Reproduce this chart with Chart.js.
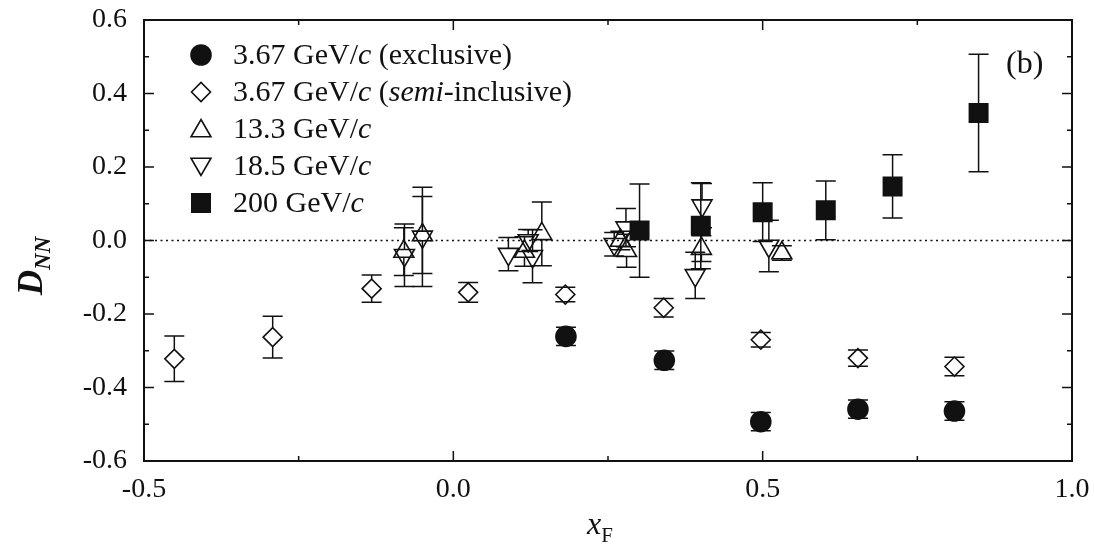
<!DOCTYPE html>
<html>
<head>
<meta charset="utf-8">
<script src="https://cdn.jsdelivr.net/npm/chart.js@4.4.1/dist/chart.umd.min.js"></script>
<style>
  html, body { margin: 0; padding: 0; background: #fff; }
  canvas { display: block; }
</style>
</head>
<body>
<canvas id="chart" width="1094" height="550"></canvas>
<script>
// Spin-transfer D_NN versus Feynman x_F, one set per beam momentum.

// 3.67 GeV/c, exclusive
const excX   = [0.182, 0.341, 0.497, 0.654, 0.810];
const excY   = [-0.261, -0.326, -0.493, -0.459, -0.464];
const excErr = [0.025, 0.025, 0.025, 0.025, 0.025];

// 3.67 GeV/c, semi-inclusive
const semiX   = [-0.451, -0.292, -0.132, 0.024, 0.181, 0.340, 0.497, 0.654, 0.810];
const semiY   = [-0.322, -0.263, -0.131, -0.141, -0.147, -0.183, -0.270, -0.320, -0.343];
const semiErr = [0.062, 0.057, 0.037, 0.027, 0.020, 0.025, 0.020, 0.022, 0.025];

// 13.3 GeV/c
const p133X   = [-0.080, -0.050, 0.115, 0.143, 0.270, 0.280, 0.401, 0.531];
const p133Y   = [-0.030, 0.015, -0.030, 0.018, 0.000, -0.028, -0.022, -0.034];
const p133Err = [0.065, 0.105, 0.040, 0.087, 0.025, 0.045, 0.035, 0.020];

// 18.5 GeV/c
const p185X   = [-0.079, -0.050, 0.089, 0.121, 0.128, 0.260, 0.279, 0.391, 0.402, 0.510];
const p185Y   = [-0.040, 0.010, -0.037, 0.000, -0.043, -0.010, 0.035, -0.095, 0.095, -0.015];
const p185Err = [0.085, 0.135, 0.045, 0.030, 0.072, 0.032, 0.052, 0.063, 0.060, 0.070];

// 200 GeV/c
const p200X   = [0.301, 0.400, 0.500, 0.602, 0.710, 0.849];
const p200Y   = [0.027, 0.040, 0.077, 0.082, 0.147, 0.347];
const p200Err = [0.127, 0.117, 0.080, 0.080, 0.086, 0.160];

// Axis ticks
const xMajorTicks = [-0.5, 0.0, 0.5, 1.0];
const xTickLabels = ['-0.5', '0.0', '0.5', '1.0'];
const xMinorTicks = [-0.25, 0.25, 0.75];
const yMajorTicks = [-0.6, -0.4, -0.2, 0.0, 0.2, 0.4, 0.6];
const yTickLabels = ['-0.6', '-0.4', '-0.2', '0.0', '0.2', '0.4', '0.6'];
const yMinorTicks = [-0.5, -0.3, -0.1, 0.1, 0.3, 0.5];

// Zero reference line end points
const zeroLineX = [-0.5, 1.0];

// Legend labels; second element marks italic pieces
const legendLabels = [
  [['3.67 GeV/', 0], ['c', 1], [' (exclusive)', 0]],
  [['3.67 GeV/', 0], ['c', 1], [' (', 0], ['semi', 1], ['-inclusive)', 0]],
  [['13.3 GeV/', 0], ['c', 1]],
  [['18.5 GeV/', 0], ['c', 1]],
  [['200 GeV/', 0], ['c', 1]]
];

const FONT = '"Liberation Serif", "Times New Roman", serif';
const INK = '#111';

const pts = (xs, ys) => xs.map((x, i) => ({ x: x, y: ys[i] }));

const markerStyles = [
  { pointStyle: 'circle',   radius: 10,   rotation: 0,   filled: true,  gapTop: 0,    gapBot: 0 },
  { pointStyle: 'rectRot',  radius: 9.5,  rotation: 0,   filled: false, gapTop: 9.5,  gapBot: 9.5 },
  { pointStyle: 'triangle', radius: 11.5, rotation: 0,   filled: false, gapTop: 11.5, gapBot: 5.75 },
  { pointStyle: 'triangle', radius: 11.5, rotation: 180, filled: false, gapTop: 5.75, gapBot: 11.5 },
  { pointStyle: 'rect',     radius: 13,   rotation: 0,   filled: true,  gapTop: 0,    gapBot: 0 }
];

const seriesData = [
  { data: pts(excX, excY),   errors: excErr },
  { data: pts(semiX, semiY), errors: semiErr },
  { data: pts(p133X, p133Y), errors: p133Err },
  { data: pts(p185X, p185Y), errors: p185Err },
  { data: pts(p200X, p200Y), errors: p200Err }
];

const drawOrder = [2, 3, 4, 4, 1];

const datasets = seriesData.map((s, k) => {
  const m = markerStyles[k];
  return {
    type: 'scatter',
    data: s.data,
    errors: s.errors,
    marker: m,
    order: drawOrder[k],
    pointStyle: m.pointStyle,
    pointRadius: m.radius,
    pointRotation: m.rotation,
    pointBorderWidth: 1.6,
    pointBorderColor: INK,
    pointBackgroundColor: m.filled ? INK : 'rgba(0,0,0,0)',
    showLine: false
  };
});

datasets.push({
  type: 'line',
  data: zeroLineX.map(x => ({ x: x, y: 0 })),
  order: 10,
  borderColor: INK,
  borderWidth: 1.4,
  borderDash: [2, 3.5],
  pointRadius: 0,
  fill: false
});

// Vertical error bars with end caps, left open inside hollow markers
const errorBarPlugin = {
  id: 'errorBars',
  beforeDatasetsDraw(chart) {
    const ctx = chart.ctx;
    const xs = chart.scales.x, ys = chart.scales.y;
    ctx.save();
    ctx.strokeStyle = INK;
    ctx.lineWidth = 1.5;
    chart.data.datasets.forEach(ds => {
      if (!ds.errors) return;
      const m = ds.marker;
      ds.data.forEach((p, i) => {
        const e = ds.errors[i];
        const px = xs.getPixelForValue(p.x);
        const py = ys.getPixelForValue(p.y);
        const top = ys.getPixelForValue(p.y + e);
        const bot = ys.getPixelForValue(p.y - e);
        ctx.beginPath();
        if (top < py - m.gapTop) { ctx.moveTo(px, top); ctx.lineTo(px, py - m.gapTop); }
        if (bot > py + m.gapBot) { ctx.moveTo(px, py + m.gapBot); ctx.lineTo(px, bot); }
        ctx.moveTo(px - 10, top); ctx.lineTo(px + 10, top);
        ctx.moveTo(px - 10, bot); ctx.lineTo(px + 10, bot);
        ctx.stroke();
      });
    });
    ctx.restore();
  }
};

function drawRich(ctx, parts, x, y, size, weight) {
  parts.forEach(([t, it]) => {
    ctx.font = (it ? 'italic ' : '') + (weight || '') + ' ' + size + 'px ' + FONT;
    ctx.fillText(t, x, y);
    x += ctx.measureText(t).width;
  });
  return x;
}

// Frame, inward tick marks, legend, panel tag and axis titles
const decorPlugin = {
  id: 'decor',
  afterDraw(chart) {
    const ctx = chart.ctx;
    const a = chart.chartArea;
    const xs = chart.scales.x, ys = chart.scales.y;
    ctx.save();
    ctx.strokeStyle = INK;
    ctx.fillStyle = INK;

    // inward ticks on all four sides
    ctx.lineWidth = 1.5;
    ctx.beginPath();
    const xTick = (v, len) => {
      const px = xs.getPixelForValue(v);
      ctx.moveTo(px, a.bottom); ctx.lineTo(px, a.bottom - len);
      ctx.moveTo(px, a.top); ctx.lineTo(px, a.top + len);
    };
    const yTick = (v, len) => {
      const py = ys.getPixelForValue(v);
      ctx.moveTo(a.left, py); ctx.lineTo(a.left + len, py);
      ctx.moveTo(a.right, py); ctx.lineTo(a.right - len, py);
    };
    xMajorTicks.forEach(v => xTick(v, 10));
    xMinorTicks.forEach(v => xTick(v, 5));
    yMajorTicks.forEach(v => yTick(v, 10));
    yMinorTicks.forEach(v => yTick(v, 5));
    ctx.stroke();

    // frame
    ctx.lineWidth = 2;
    ctx.strokeRect(a.left, a.top, a.right - a.left, a.bottom - a.top);

    // legend
    const lx = 201, ly0 = 55, dy = 37;
    legendLabels.forEach((parts, k) => {
      const m = markerStyles[k];
      const y = ly0 + dy * k;
      ctx.save();
      ctx.lineWidth = 1.6;
      ctx.strokeStyle = INK;
      ctx.fillStyle = m.filled ? INK : 'rgba(0,0,0,0)';
      Chart.helpers.drawPoint(ctx, {
        pointStyle: m.pointStyle, radius: m.radius, rotation: m.rotation, borderWidth: 1.6
      }, lx, y + (m.pointStyle === 'triangle' ? (m.rotation ? -2 : 2) : 0));
      ctx.restore();
      ctx.textBaseline = 'middle';
      ctx.textAlign = 'left';
      drawRich(ctx, parts, 233, y + 1, 30);
    });

    // panel tag
    ctx.textBaseline = 'middle';
    ctx.font = '32px ' + FONT;
    ctx.fillText('(b)', 1006, 65);

    // x-axis title
    ctx.textBaseline = 'alphabetic';
    let x = 587;
    ctx.font = 'italic 32px ' + FONT;
    ctx.fillText('x', x, 534);
    x += ctx.measureText('x').width;
    ctx.font = '21px ' + FONT;
    ctx.fillText('F', x, 542);

    // y-axis title, rotated
    ctx.translate(42, 266);
    ctx.rotate(-Math.PI / 2);
    ctx.font = 'italic bold 35px ' + FONT;
    const wD = ctx.measureText('D').width;
    ctx.font = 'italic bold 23px ' + FONT;
    const wN = ctx.measureText('NN').width;
    let u = -(wD + wN) / 2;
    ctx.font = 'italic bold 35px ' + FONT;
    ctx.fillText('D', u, 0);
    u += wD;
    ctx.font = 'italic bold 23px ' + FONT;
    ctx.fillText('NN', u, 8);
    ctx.restore();
  }
};

new Chart(document.getElementById('chart'), {
  data: { datasets: datasets },
  options: {
    responsive: false,
    animation: false,
    devicePixelRatio: 1,
    layout: { autoPadding: false, padding: { left: 0, right: 22, top: 20, bottom: 0 } },
    plugins: { legend: { display: false }, tooltip: { enabled: false } },
    scales: {
      x: {
        type: 'linear',
        min: -0.5, max: 1.0,
        grid: { display: false, drawTicks: false },
        border: { display: false },
        afterBuildTicks: s => { s.ticks = xMajorTicks.map(v => ({ value: v })); },
        afterFit: s => { s.height = 89; s.paddingLeft = 0; s.paddingRight = 0; },
        ticks: {
          callback: (v, i) => xTickLabels[i],
          font: { family: FONT, size: 28 },
          color: INK,
          padding: 12,
          maxRotation: 0
        }
      },
      y: {
        type: 'linear',
        min: -0.6, max: 0.6,
        grid: { display: false, drawTicks: false },
        border: { display: false },
        afterBuildTicks: s => { s.ticks = yMajorTicks.map(v => ({ value: v })); },
        afterFit: s => { s.width = 144; s.paddingTop = 0; s.paddingBottom = 0; },
        ticks: {
          callback: (v, i) => yTickLabels[i],
          font: { family: FONT, size: 28 },
          color: INK,
          padding: 17
        }
      }
    }
  },
  plugins: [errorBarPlugin, decorPlugin]
});
</script>
</body>
</html>
